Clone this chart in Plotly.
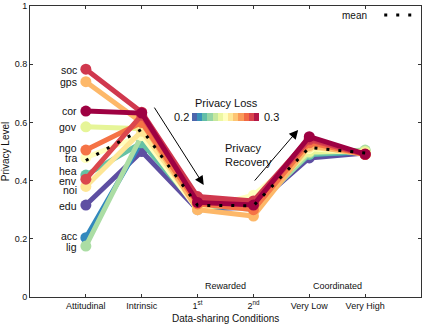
import plotly.graph_objects as go
from plotly.colors import sample_colorscale

# ---------------- data ----------------
conditions = ["Attitudinal", "Intrinsic", "1<sup>st</sup>", "2<sup>nd</sup>", "Very Low", "Very High"]
cond_pos = [1, 2, 3, 4, 5, 6]

names = ["edu", "acc", "hea", "lig", "gov", "tra", "noi", "gps", "ngo", "env", "soc", "cor"]
privacy_loss = [0.200, 0.210, 0.220, 0.230, 0.240, 0.250, 0.258, 0.268, 0.279, 0.288, 0.291, 0.300]

edu = [0.316, 0.500, 0.300, 0.310, 0.478, 0.495]
acc = [0.204, 0.535, 0.310, 0.310, 0.490, 0.497]
hea = [0.419, 0.530, 0.310, 0.310, 0.490, 0.500]
lig = [0.175, 0.555, 0.320, 0.300, 0.495, 0.505]
gov = [0.585, 0.578, 0.310, 0.320, 0.500, 0.500]
tra = [0.479, 0.555, 0.300, 0.350, 0.510, 0.495]
noi = [0.380, 0.570, 0.310, 0.320, 0.515, 0.495]
gps = [0.740, 0.600, 0.300, 0.278, 0.520, 0.490]
ngo = [0.505, 0.600, 0.320, 0.300, 0.530, 0.490]
env = [0.405, 0.625, 0.330, 0.320, 0.540, 0.490]
soc = [0.783, 0.635, 0.345, 0.330, 0.545, 0.490]
cor = [0.639, 0.632, 0.325, 0.316, 0.551, 0.491]
series = [edu, acc, hea, lig, gov, tra, noi, gps, ngo, env, soc, cor]

# label placement (y in data units) next to the Attitudinal markers
label_y = {"edu": 0.313, "acc": 0.208, "hea": 0.434, "lig": 0.172, "gov": 0.585,
           "tra": 0.477, "noi": 0.366, "gps": 0.740, "ngo": 0.513, "env": 0.400,
           "soc": 0.780, "cor": 0.640}

loss_min, loss_max = 0.2, 0.3
FONT = "Liberation Sans, Arial, Helvetica, sans-serif"

spectral_r = ["#5e4fa2", "#3288bd", "#66c2a5", "#abdda4", "#e6f598", "#ffffbf",
              "#fee08b", "#fdae61", "#f46d43", "#d53e4f", "#9e0142"]
cont_scale = [[i / (len(spectral_r) - 1), c] for i, c in enumerate(spectral_r)]

# discrete colour bar (13 steps)
nbins = 13
bin_cols = sample_colorscale(cont_scale, [(i + 0.5) / nbins for i in range(nbins)])
disc_scale = []
for i, c in enumerate(bin_cols):
    disc_scale.append([i / nbins, c])
    disc_scale.append([(i + 1) / nbins, c])

fig = go.Figure()

for name, vals, loss in zip(names, series, privacy_loss):
    t = (loss - loss_min) / (loss_max - loss_min)
    col = sample_colorscale(cont_scale, [t])[0]
    fig.add_trace(go.Scatter(
        x=cond_pos, y=vals, mode="lines+markers", name=name,
        line=dict(color=col, width=5), marker=dict(color=col, size=11),
        showlegend=False, hoverinfo="skip"))

mean_vals = [sum(s[i] for s in series) / len(series) for i in range(len(cond_pos))]
fig.add_trace(go.Scatter(
    x=cond_pos, y=mean_vals, mode="lines", name="mean",
    line=dict(color="black", width=3, dash="3px,9px"), showlegend=False))

# dummy trace for colour bar
fig.add_trace(go.Scatter(
    x=[None, None], y=[None, None], mode="markers", showlegend=False,
    marker=dict(color=[loss_min, loss_max], cmin=loss_min, cmax=loss_max,
                colorscale=disc_scale, showscale=True,
                colorbar=dict(orientation="h", x=0.5, xanchor="center",
                              y=0.617, yanchor="middle", yref="paper",
                              lenmode="pixels", len=67, thickness=8,
                              outlinewidth=0, showticklabels=False, ticks="",
                              xpad=0, ypad=0))))

# series labels
for name, vals in zip(names, series):
    fig.add_annotation(x=cond_pos[0], y=label_y[name], text=name, showarrow=False,
                       xanchor="right", yanchor="middle", xshift=-7,
                       font=dict(family=FONT, size=10.5, color="#111"))

txt = dict(family=FONT, size=11, color="#111")
fig.add_annotation(x=3.51, y=0.665, text="Privacy Loss", showarrow=False, font=txt)
fig.add_annotation(x=2.88, y=0.617, text="0.2", showarrow=False, xanchor="right", font=txt)
fig.add_annotation(x=4.16, y=0.617, text="0.3", showarrow=False, xanchor="left", font=txt)
fig.add_annotation(x=3.45, y=0.488, text="Privacy<br>Recovery", showarrow=False,
                   xanchor="left", align="left", font=txt)

# arrows
fig.add_annotation(x=3.11, y=0.385, ax=2.21, ay=0.656, axref="x", ayref="y",
                   text="", showarrow=True, arrowhead=2, arrowsize=1.8, arrowwidth=1,
                   arrowcolor="black")
fig.add_annotation(x=4.80, y=0.574, ax=4.0, ay=0.395, axref="x", ayref="y",
                   text="", showarrow=True, arrowhead=2, arrowsize=1.8, arrowwidth=1,
                   arrowcolor="black")

# group labels
small = dict(family=FONT, size=9, color="#111")
fig.add_annotation(x=3.5, y=0.038, text="Rewarded", showarrow=False, font=small)
fig.add_annotation(x=5.5, y=0.038, text="Coordinated", showarrow=False, font=small)

# mean legend
fig.add_annotation(x=0.866, y=0.969, xref="paper", yref="paper", text="mean",
                   showarrow=False, xanchor="right", yanchor="middle",
                   font=dict(family=FONT, size=10, color="#111"))
fig.add_shape(type="line", xref="paper", yref="paper", x0=0.906, x1=0.98,
              y0=0.969, y1=0.969, line=dict(color="black", width=3, dash="3px,9px"))

# x-axis title as annotation
fig.add_annotation(x=0.5, y=0, xref="paper", yref="paper", yshift=-21,
                   text="Data-sharing Conditions", showarrow=False,
                   yanchor="middle", font=dict(family=FONT, size=10, color="#111"))

fig.update_xaxes(range=[0, 7], tickvals=cond_pos, ticktext=conditions,
                 ticks="inside", ticklen=3, tickcolor="#333", mirror="ticks",
                 showline=True, linecolor="#333", linewidth=1, showgrid=False,
                 zeroline=False, tickfont=dict(family=FONT, size=9, color="#111"),
                 automargin=False)
fig.update_yaxes(range=[0, 1], tickvals=[0, 0.2, 0.4, 0.6, 0.8, 1],
                 ticktext=["0", "0.2", "0.4", "0.6", "0.8", "1"],
                 ticks="inside", ticklen=3, tickcolor="#333", mirror="ticks",
                 showline=True, linecolor="#333", linewidth=1, showgrid=False,
                 zeroline=False, tickfont=dict(family=FONT, size=9, color="#111"),
                 title=dict(text="Privacy Level", standoff=6,
                            font=dict(family=FONT, size=10, color="#111")),
                 automargin=False)

fig.update_layout(width=432, height=324, margin=dict(l=30, r=11, t=6, b=27),
                  plot_bgcolor="white", paper_bgcolor="white",
                  font=dict(family=FONT))

fig.write_html("out.html", config={"displayModeBar": False},
               post_script="document.body.style.margin='0';document.body.style.overflow='hidden';")
